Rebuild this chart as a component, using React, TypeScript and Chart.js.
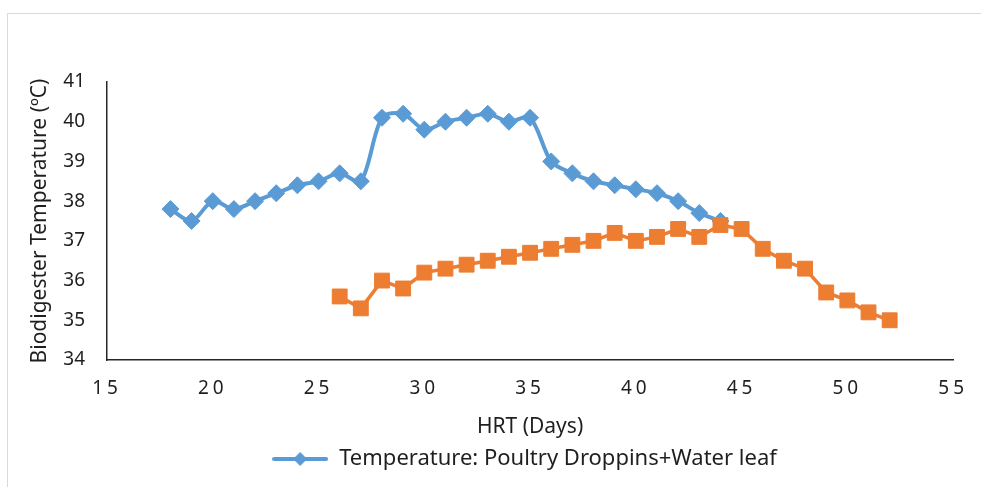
import React, { useEffect, useRef } from "react";
import { Chart, registerables } from "chart.js";

Chart.register(...registerables);

const blueDays = [18, 19, 20, 21, 22, 23, 24, 25, 26, 27, 28, 29, 30, 31, 32, 33, 34, 35, 36, 37, 38, 39, 40, 41, 42, 43, 44];
const blueTemps = [37.8, 37.5, 38.0, 37.8, 38.0, 38.2, 38.4, 38.5, 38.7, 38.5, 40.1, 40.2, 39.8, 40.0, 40.1, 40.2, 40.0, 40.1, 39.0, 38.7, 38.5, 38.4, 38.3, 38.2, 38.0, 37.7, 37.5];
const orangeDays = [26, 27, 28, 29, 30, 31, 32, 33, 34, 35, 36, 37, 38, 39, 40, 41, 42, 43, 44, 45, 46, 47, 48, 49, 50, 51, 52];
const orangeTemps = [35.6, 35.3, 36.0, 35.8, 36.2, 36.3, 36.4, 36.5, 36.6, 36.7, 36.8, 36.9, 37.0, 37.2, 37.0, 37.1, 37.3, 37.1, 37.4, 37.3, 36.8, 36.5, 36.3, 35.7, 35.5, 35.2, 35.0];

const blueLabel = "Temperature: Poultry Droppins+Water leaf";
const orangeLabel = "Temperature: Series 2";
const xTitle = "HRT (Days)";
const yTitle = "Biodigester Temperature (ºC)";

const BLUE = "#5B9BD5";
const ORANGE = "#ED7D31";
const TEXT = "#1f1f1f";
const FONT = "'Noto Sans', 'Open Sans', sans-serif";

function legendMarker(): HTMLCanvasElement {
  const c = document.createElement("canvas");
  c.width = 56;
  c.height = 16;
  const ctx = c.getContext("2d")!;
  ctx.strokeStyle = BLUE;
  ctx.lineWidth = 4;
  ctx.lineCap = "round";
  ctx.beginPath();
  ctx.moveTo(2, 8);
  ctx.lineTo(54, 8);
  ctx.stroke();
  ctx.fillStyle = BLUE;
  ctx.beginPath();
  ctx.moveTo(28, 1);
  ctx.lineTo(35, 8);
  ctx.lineTo(28, 15);
  ctx.lineTo(21, 8);
  ctx.closePath();
  ctx.fill();
  return c;
}

const xSpacingPlugin = {
  id: "xSpacing",
  afterLayout(chart: any) {
    const lg = chart.legend;
    if (lg) {
      lg.left += 34;
      lg.right += 34;
    }
  },
  beforeDraw(chart: any) {
    const s = chart.scales.x;
    if (s && !s.__patched) {
      const orig = s.drawLabels.bind(s);
      s.drawLabels = (area: any) => {
        const ctx = chart.ctx;
        ctx.save();
        (ctx as any).letterSpacing = "4px";
        orig(area);
        ctx.restore();
      };
      s.__patched = true;
    }
  },
};

export default function App() {
  const ref = useRef<HTMLCanvasElement>(null);

  useEffect(() => {
    if (!ref.current) return;
    const marker = legendMarker();
    const chart = new Chart(ref.current, {
      type: "line",
      data: {
        datasets: [
          {
            label: blueLabel,
            data: blueDays.map((d, i) => ({ x: d, y: blueTemps[i] })),
            borderColor: BLUE,
            backgroundColor: BLUE,
            borderWidth: 4,
            pointStyle: "rectRot",
            pointRadius: 8.5,
            pointBorderWidth: 1,
            pointBackgroundColor: BLUE,
            pointBorderColor: BLUE,
            tension: 0.3,
            order: 1,
          },
          {
            label: orangeLabel,
            data: orangeDays.map((d, i) => ({ x: d, y: orangeTemps[i] })),
            borderColor: ORANGE,
            backgroundColor: ORANGE,
            borderWidth: 3.5,
            pointStyle: "rect",
            pointRadius: 10.5,
            pointBorderWidth: 1,
            pointBackgroundColor: ORANGE,
            pointBorderColor: ORANGE,
            tension: 0,
            order: 0,
          },
        ],
      },
      options: {
        responsive: false,
        animation: false,
        layout: { padding: { top: 82, right: 27, left: 27, bottom: 7 } },
        font: { family: FONT },
        plugins: {
          tooltip: { enabled: false },
          legend: {
            position: "bottom",
            labels: {
              color: TEXT,
              font: { family: FONT, size: 22 },
              usePointStyle: true,
              pointStyleWidth: 56,
              padding: 8,
              filter: (item: any) => item.datasetIndex === 0,
              generateLabels: (ch: any) => {
                const items = Chart.defaults.plugins.legend.labels.generateLabels(ch);
                return items.map((it: any) => ({ ...it, pointStyle: marker }));
              },
            },
          },
        },
        scales: {
          x: {
            type: "linear",
            min: 15,
            max: 55,
            grid: { display: false, drawTicks: false },
            border: { display: true, color: "#262626", width: 1.5 },
            ticks: {
              stepSize: 5,
              padding: 17,
              color: TEXT,
              font: { family: FONT, size: 19 },
            },
            title: {
              display: true,
              text: xTitle,
              color: TEXT,
              font: { family: FONT, size: 21 },
              padding: { top: 0, bottom: 0 },
            },
            afterFit: (s: any) => {
              s.height = 80;
            },
          },
          y: {
            type: "linear",
            min: 34,
            max: 41,
            grid: { display: false, drawTicks: false },
            border: { display: true, color: "#262626", width: 1.5 },
            ticks: {
              stepSize: 1,
              padding: 22,
              color: TEXT,
              font: { family: FONT, size: 19 },
            },
            title: {
              display: true,
              text: yTitle,
              color: TEXT,
              font: { family: FONT, size: 21 },
              padding: { top: 0, bottom: 0 },
            },
            afterFit: (s: any) => {
              s.width = 80;
            },
          },
        },
      },
      plugins: [xSpacingPlugin],
    });
    return () => chart.destroy();
  }, []);

  return (
    <div style={{ position: "fixed", left: 0, top: 0, width: 981, height: 487, overflow: "hidden", background: "#fff" }}>
      <div
        style={{
          position: "absolute",
          left: 7,
          top: 13,
          width: 1000,
          height: 500,
          border: "1px solid #d9d9d9",
          boxSizing: "border-box",
        }}
      />
      <canvas ref={ref} width={981} height={487} style={{ position: "absolute", left: 0, top: 0, width: 981, height: 487 }} />
    </div>
  );
}
